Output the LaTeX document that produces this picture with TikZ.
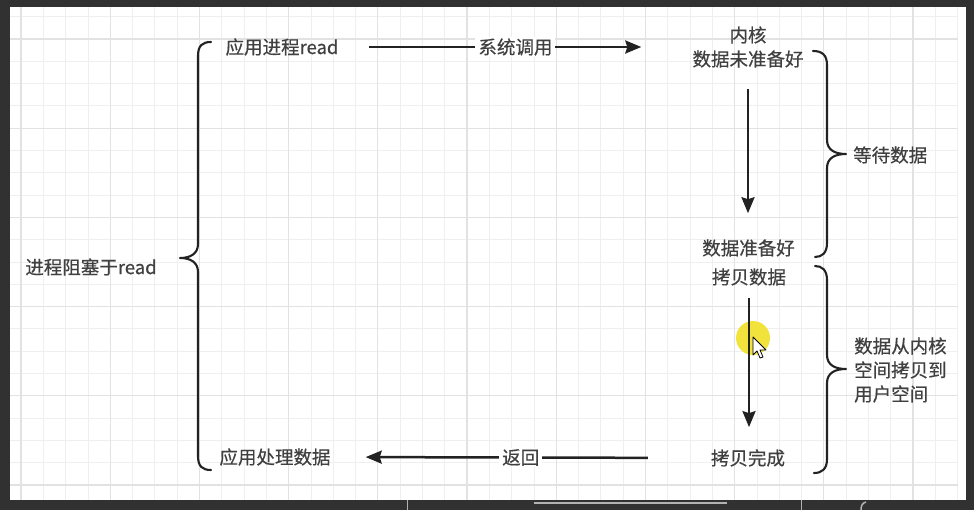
\documentclass[tikz,border=0pt]{standalone}
\usepackage{fontspec}
\setmainfont[FakeBold=0.5]{Noto Sans CJK SC}
\usetikzlibrary{arrows.meta}
\definecolor{bgdark}{HTML}{313131}
\definecolor{txt}{HTML}{404040}
\definecolor{linec}{HTML}{222222}
\definecolor{gridminor}{HTML}{EFEFEF}
\definecolor{gridmajor}{HTML}{E2E2E2}
\definecolor{hl}{HTML}{F2E23C}
\tikzset{
  lbl/.style={font=\fontsize{18.5}{24}\selectfont, text=txt, inner sep=0pt, align=center},
  onln/.style={font=\fontsize{18.5}{24}\selectfont, text=txt, fill=white, inner xsep=3pt, inner ysep=1pt},
  arr/.style={draw=linec, line width=2.5pt, -{Stealth[length=16pt,width=13pt,inset=2pt]}},
  bracepath/.style={draw=linec, line width=2.1pt, line cap=round, line join=round},
  gminor/.style={draw=gridminor, line width=0.8pt},
  gmajor/.style={draw=gridmajor, line width=1.2pt}
}
\begin{document}
\begin{tikzpicture}[x=1pt,y=-1pt]
% background and panel
\fill[bgdark] (0,0) rectangle (974,510);
\useasboundingbox (0,0) rectangle (974,510);
\fill[white] (10,7) rectangle (966,500);
% grid
\foreach \i in {0,...,42}{\pgfmathsetmacro\xx{21+22.3*\i}\draw[gminor] (\xx,7) -- (\xx,500);}
\foreach \k in {0,...,21}{\pgfmathsetmacro\yy{16.7+22.3*\k}\draw[gminor] (10,\yy) -- (957.6,\yy);}
\foreach \i in {0,4,...,40}{\pgfmathsetmacro\xx{21+22.3*\i}\draw[gmajor] (\xx,7) -- (\xx,500);}
\foreach \k in {1,5,...,21}{\pgfmathsetmacro\yy{16.7+22.3*\k}\draw[gmajor] (10,\yy) -- (957.6,\yy);}
% cut-off shapes below the panel
\begin{scope}
\clip (0,500.5) rectangle (974,510);
\draw[gray!60, line width=1pt] (407,500) -- (407,510);
\draw[gray!60, line width=1pt] (801,500) -- (801,510);
\draw[gray!60, line width=2pt] (534,503) -- (727,503);
\draw[gray!60, line width=1.5pt] (866,502) .. controls (862,503) and (861,506) .. (861,510);
\end{scope}
% highlight
\fill[hl] (753,338) circle (17);
% text nodes
\node[lbl] (app) at (282,47) {应用进程read};
\node[lbl] (kern) at (748,47) {内核\\数据未准备好};
\node[lbl] (ready) at (748.5,248) {数据准备好};
\node[lbl] (copy) at (749,277) {拷贝数据};
\node[lbl] (done) at (748,458) {拷贝完成};
\node[lbl] (proc) at (275,457) {应用处理数据};
\node[lbl] (block) at (91,267) {进程阻塞于read};
\node[lbl, anchor=west] (wait) at (853,155) {等待数据};
\node[lbl, anchor=west, align=left] (cpy) at (854,370) {数据从内核\\空间拷贝到\\用户空间};
% connectors
\draw[arr, shorten <=30pt, shorten >=51pt] (app.east) -- (kern.west) node[onln, midway] (sc) {系统调用};
\draw[arr, shorten <=21pt, shorten >=26pt] (kern.south) -- (kern.south |- ready.north);
\draw[arr, shorten <=12pt, shorten >=22pt] (copy.south) -- (copy.south |- done.north);
\draw[arr, shorten <=63pt, shorten >=35pt] (done.west) -- (proc.east) node[onln, midway] (ret) {返回};
% braces
\draw[bracepath] (211,42) .. controls (202,42) and (198,46) .. (198,56) -- (198,244)
  .. controls (198,254) and (190,258) .. (180,258)
  .. controls (190,258) and (198,262) .. (198,272) -- (198,456)
  .. controls (198,466) and (202,470) .. (211,470);
\draw[bracepath] (813,51) .. controls (822,51) and (827,55) .. (827,65) -- (827,140)
  .. controls (827,150) and (835,154) .. (846,154)
  .. controls (835,154) and (827,158) .. (827,168) -- (827,243)
  .. controls (827,253) and (822,257) .. (815,257);
\draw[bracepath] (815,266) .. controls (822,266) and (827,270) .. (827,280) -- (827,355)
  .. controls (827,365) and (835,369) .. (846,369)
  .. controls (835,369) and (827,373) .. (827,383) -- (827,459)
  .. controls (827,469) and (822,473) .. (814,473);
% cursor
\draw[black, line width=0.8pt, fill=white, line join=round]
  (753,337) -- (753,355) -- (757,351) -- (760,358) -- (763,357) -- (760,350) -- (766,350) -- cycle;
\end{tikzpicture}
\end{document}
